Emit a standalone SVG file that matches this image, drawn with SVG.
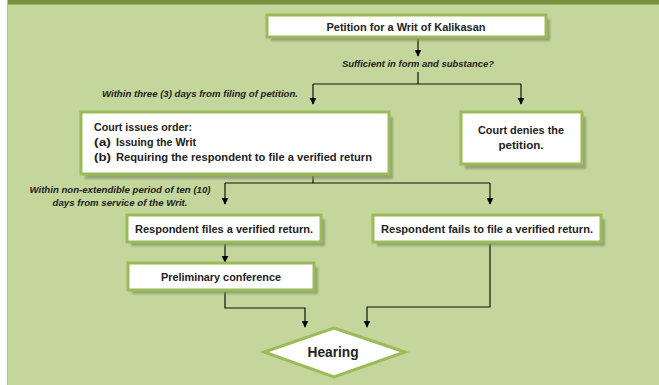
<svg xmlns="http://www.w3.org/2000/svg" width="659" height="385" viewBox="0 0 659 385">
<defs>
<marker id="ah" viewBox="0 0 10 10" refX="9" refY="5" markerWidth="7" markerHeight="8" markerUnits="userSpaceOnUse" orient="auto">
<path d="M0,0 L10,5 L0,10 Z" fill="#000"/>
</marker>
<filter id="sh" x="-10%" y="-10%" width="130%" height="140%">
<feGaussianBlur stdDeviation="1"/>
</filter>
</defs>
<style>
.box{fill:#fff;stroke:#9bbb59;stroke-width:3}
.shd{fill:#7f8f66;opacity:0.7;filter:url(#sh)}
.t{font-family:"Liberation Sans",Arial,sans-serif;font-weight:bold;font-size:11px;fill:#222}
.c{text-anchor:middle}
.i{font-style:italic;font-size:9.5px}
.ln{fill:none;stroke:#111;stroke-width:1.2}
.arr{marker-end:url(#ah)}
</style>
<rect x="0" y="0" width="659" height="385" fill="#fff"/>
<rect x="8" y="0" width="651" height="385" fill="#c3d69b"/>
<rect x="7" y="0" width="1" height="385" fill="#b9b9b9"/>
<rect x="8" y="0" width="651" height="4" fill="#76923c"/>
<rect x="8" y="4" width="651" height="1" fill="#9bb46a"/>

<g id="connectors">
<path class="ln arr" d="M418,39 V56"/>
<path class="ln" d="M418,72 V84 M313,84 H521"/>
<path class="ln arr" d="M313,84 V104"/>
<path class="ln arr" d="M521,84 V104"/>
<path class="ln" d="M313,176 V183 M225,183 H490"/>
<path class="ln arr" d="M225,183 V204"/>
<path class="ln arr" d="M490,183 V204"/>
<path class="ln arr" d="M225,244 V262"/>
<path class="ln arr" d="M225,292 V308 H305 V327"/>
<path class="ln arr" d="M490,244 V307 H367 V327"/>
</g>

<g id="label-sufficient"><text class="t i c" x="418" y="67" textLength="152" lengthAdjust="spacingAndGlyphs">Sufficient in form and substance?</text></g>
<g id="label-within3"><text class="t i c" x="200" y="97" textLength="196" lengthAdjust="spacingAndGlyphs">Within three (3) days from filing of petition.</text></g>
<g id="label-within10">
<text class="t i c" x="120" y="193" textLength="181" lengthAdjust="spacingAndGlyphs">Within non-extendible period of ten (10)</text>
<text class="t i c" x="120" y="206" textLength="135" lengthAdjust="spacingAndGlyphs">days from service of the Writ.</text>
</g>

<g id="petition">
<rect class="shd" x="271" y="19" width="279" height="22"/>
<rect class="box" x="267" y="15" width="279" height="22"/>
<text class="t c" x="406" y="30.5" textLength="159" lengthAdjust="spacingAndGlyphs">Petition for a Writ of Kalikasan</text>
</g>

<g id="court-issues">
<rect class="shd" x="85" y="117" width="308" height="62"/>
<rect class="box" x="81" y="112" width="308" height="62"/>
<text class="t" x="94" y="131" textLength="98" lengthAdjust="spacingAndGlyphs">Court issues order:</text>
<text class="t" x="94" y="146" textLength="17" lengthAdjust="spacingAndGlyphs">(a)</text>
<text class="t" x="116" y="146" textLength="80" lengthAdjust="spacingAndGlyphs">Issuing the Writ</text>
<text class="t" x="94" y="161" textLength="17" lengthAdjust="spacingAndGlyphs">(b)</text>
<text class="t" x="116" y="161" textLength="256" lengthAdjust="spacingAndGlyphs">Requiring the respondent to file a verified return</text>
</g>

<g id="court-denies">
<rect class="shd" x="465" y="117" width="121" height="52"/>
<rect class="box" x="461" y="112" width="121" height="52"/>
<text class="t c" x="521" y="134" textLength="86" lengthAdjust="spacingAndGlyphs">Court denies the</text>
<text class="t c" x="521" y="149" textLength="45" lengthAdjust="spacingAndGlyphs">petition.</text>
</g>

<g id="respondent-files">
<rect class="shd" x="131" y="219" width="194" height="27"/>
<rect class="box" x="127" y="215" width="194" height="27"/>
<text class="t c" x="224" y="232.5" textLength="178" lengthAdjust="spacingAndGlyphs">Respondent files a verified return.</text>
</g>

<g id="respondent-fails">
<rect class="shd" x="377" y="219" width="228" height="27"/>
<rect class="box" x="373" y="215" width="228" height="27"/>
<text class="t c" x="487" y="232.5" textLength="212" lengthAdjust="spacingAndGlyphs">Respondent fails to file a verified return.</text>
</g>

<g id="preliminary">
<rect class="shd" x="132" y="267" width="186" height="27"/>
<rect class="box" x="128" y="263" width="186" height="27"/>
<text class="t c" x="221" y="280.5" textLength="120" lengthAdjust="spacingAndGlyphs">Preliminary conference</text>
</g>

<g id="hearing">
<path class="box" d="M334,328 L405,352 L334,377 L264,352 Z"/>
<text class="t c" x="333" y="357" style="font-size:14px" textLength="51" lengthAdjust="spacingAndGlyphs">Hearing</text>
</g>
</svg>
